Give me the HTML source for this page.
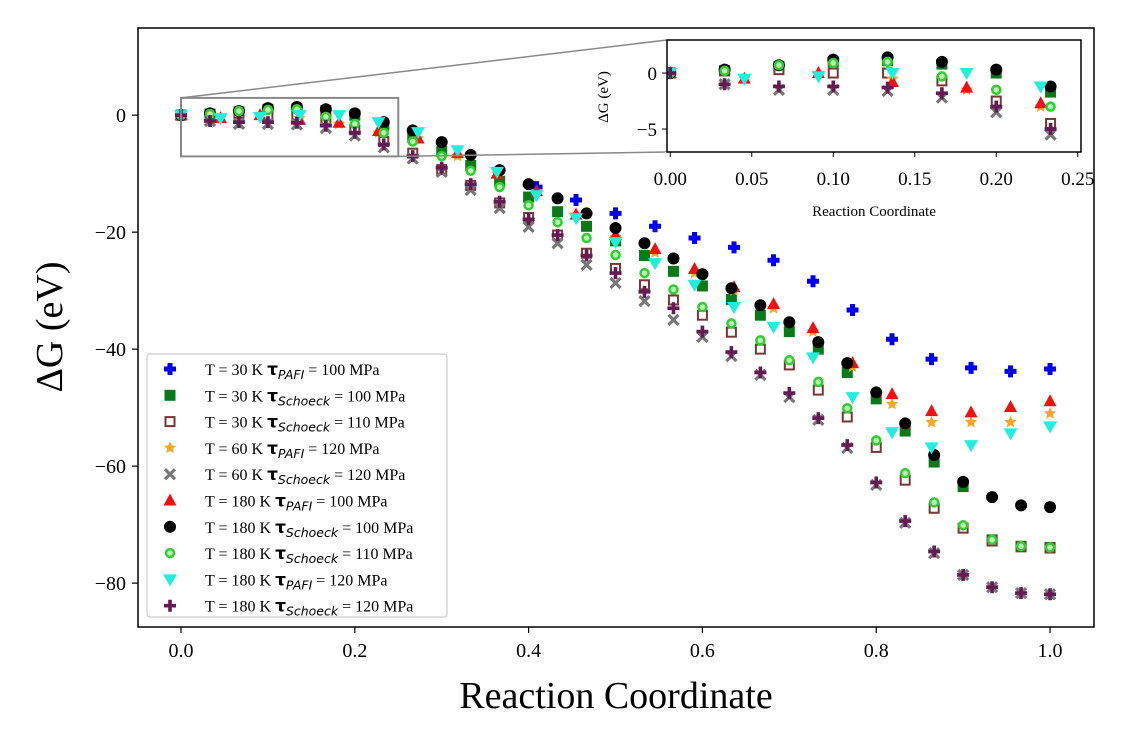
<!DOCTYPE html>
<html><head><meta charset="utf-8"><style>
html,body{margin:0;padding:0;background:#fff;}
svg{display:block;font-family:"Liberation Serif",serif;}
</style></head><body>
<svg id="chart" width="1122" height="748" viewBox="0 0 1122 748" xmlns="http://www.w3.org/2000/svg">
<g id="main"></g>
</svg>
<script>
// ---- data ----
const xSchoeck = Array.from({length:31},(_,k)=>k/30);
const xPafi = Array.from({length:23},(_,k)=>k/22);
const xPafiLate = xPafi.slice(9);
const pafi30_100 = [-12.3,-14.5,-16.8,-19,-21,-22.6,-24.8,-28.4,-33.3,-38.3,-41.7,-43.2,-43.8,-43.4];
const pafi60_120 = [0,-0.5,0,-0.5,-1.5,-3,-4,-7,-10,-13,-17,-21,-23.5,-27,-30,-33,-37,-43,-49.4,-52.5,-52.5,-52.5,-51];
const pafi180_100 = [0,-0.5,0,-0.8,-1.3,-2.7,-4,-6.5,-10,-13,-17,-20.5,-22.9,-26.3,-29.4,-32.3,-36.4,-42.4,-47.7,-50.6,-50.8,-49.9,-48.9];
const pafi180_120 = [0,-0.5,-0.3,0,0,-1.2,-2.9,-6,-9.7,-13.7,-17.6,-21.7,-25.3,-29,-32.8,-36.2,-41.4,-48.2,-54.2,-56.8,-56.4,-54.4,-53.2];
const sch30_100 = [0,0.2,0.6,1,1.1,0.8,0,-1.7,-3.8,-6.2,-8.6,-11.3,-14,-16.5,-19,-21.5,-24,-26.7,-29.2,-31.5,-34.2,-37,-40,-44,-48.5,-54,-59.3,-63.5,-72.6,-73.7,-73.9];
const sch30_110 = [0,0.2,0.3,0,0,-0.7,-2.5,-4.5,-6.5,-9.3,-12,-15,-17.5,-20.5,-23.6,-26.2,-29,-31.6,-34.2,-37.1,-40,-42.7,-47,-51.6,-56.8,-62.4,-67.2,-70.6,-72.8,-73.8,-74];
const sch60_120 = [0,-1,-1.5,-1.5,-1.6,-2.2,-3.5,-5.5,-7.4,-9.7,-12.8,-15.9,-19.1,-21.9,-25.6,-28.7,-31.8,-35,-37.9,-41.2,-44.4,-48.2,-52.1,-56.9,-63.2,-69.7,-74.9,-78.6,-80.7,-81.7,-81.9];
const sch180_100 = [0,0.3,0.7,1.2,1.4,1.0,0.3,-1.2,-2.6,-4.6,-6.8,-9.4,-11.8,-14.2,-16.8,-19.3,-21.9,-24.5,-27.2,-29.6,-32.5,-35.4,-38.8,-42.4,-47.4,-52.7,-58.1,-62.7,-65.3,-66.7,-67];
const sch180_110 = [0,0.2,0.7,0.9,1,-0.3,-1.5,-3,-4.5,-7,-9.5,-12.3,-15.4,-18.3,-21,-23.9,-27,-29.8,-32.8,-35.6,-38.5,-41.9,-45.6,-50.1,-55.6,-61.2,-66.2,-70.1,-72.6,-73.7,-73.9];
const sch180_120 = [0,-1,-1.2,-1.2,-1.3,-1.8,-3,-5,-7,-9,-11.8,-14.8,-17.8,-20.5,-24,-27,-30.2,-33,-37,-40.5,-44,-47.5,-51.8,-56.4,-62.8,-69.4,-74.6,-78.6,-80.7,-81.7,-81.9];
const xTicks = [0,0.2,0.4,0.6,0.8,1.0];
const yTicks = [0,-20,-40,-60,-80];
const insetXTicks = [0,0.05,0.10,0.15,0.20,0.25];
const insetYTicks = [0,-5];

const NS="http://www.w3.org/2000/svg";
function el(tag,attrs,parent){const e=document.createElementNS(NS,tag);for(const k in attrs)e.setAttribute(k,attrs[k]);parent.appendChild(e);return e;}
const root=document.getElementById('main');

const M={l:138,r:1094,t:28,b:627,x0:-0.0495,x1:1.0506,y0:-87.5,y1:14.9};
const I={l:667,r:1081,t:40,b:152,x0:-0.002,x1:0.252,y0:-7.05,y1:2.95};
function sx(A,v){return A.l+(v-A.x0)/(A.x1-A.x0)*(A.r-A.l);}
function sy(A,v){return A.b-(v-A.y0)/(A.y1-A.y0)*(A.b-A.t);}

function marker(g,type,x,y){
  let m;
  if(type==='plus'){m=el('path',{d:`M${x-2.5},${y-6}h5v3.5h3.5v5h-3.5v3.5h-5v-3.5h-3.5v-5h3.5z`,fill:'#0000ee'},g);}
  else if(type==='square'){m=el('rect',{x:x-5.5,y:y-5.5,width:11,height:11,fill:'#0a7a18'},g);}
  else if(type==='osquare'){m=el('rect',{x:x-4.5,y:y-4.5,width:9,height:9,fill:'#fff',stroke:'#7a3535','stroke-width':2},g);}
  else if(type==='star'){let p='';for(let i=0;i<10;i++){const r=i%2?3:6.5,a=-Math.PI/2+i*Math.PI/5;p+=(i?'L':'M')+(x+r*Math.cos(a)).toFixed(1)+','+(y+r*Math.sin(a)).toFixed(1);}m=el('path',{d:p+'Z',fill:'#f5a623'},g);}
  else if(type==='x'){m=el('path',{d:`M${x-5},${y-5}L${x+5},${y+5}M${x+5},${y-5}L${x-5},${y+5}`,stroke:'#777','stroke-width':3.2},g);}
  else if(type==='tri'){m=el('path',{d:`M${x},${y-7}L${x+6.5},${y+5}L${x-6.5},${y+5}Z`,fill:'#ee1111'},g);}
  else if(type==='circle'){m=el('circle',{cx:x,cy:y,r:6,fill:'#000'},g);}
  else if(type==='ocircle'){m=el('circle',{cx:x,cy:y,r:4,fill:'#b8f5b0',stroke:'#33cc33','stroke-width':2.5},g);}
  else if(type==='vtri'){m=el('path',{d:`M${x-7},${y-5}L${x+7},${y-5}L${x},${y+7}Z`,fill:'#22eedd'},g);}
  else if(type==='pplus'){m=el('path',{d:`M${x-1.8},${y-6}h3.6v4.2h4.2v3.6h-4.2v4.2h-3.6v-4.2h-4.2v-3.6h4.2z`,fill:'#661a55'},g);}
  return m;
}

const series=[
 {name:'pafi-30k-100mpa',type:'plus',xs:xPafiLate,ys:pafi30_100,label:'T = 30 K ',sub:'PAFI',tail:' = 100 MPa'},
 {name:'schoeck-30k-100mpa',type:'square',xs:xSchoeck,ys:sch30_100,label:'T = 30 K ',sub:'Schoeck',tail:' = 100 MPa'},
 {name:'schoeck-30k-110mpa',type:'osquare',xs:xSchoeck,ys:sch30_110,label:'T = 30 K ',sub:'Schoeck',tail:' = 110 MPa'},
 {name:'pafi-60k-120mpa',type:'star',xs:xPafi,ys:pafi60_120,label:'T = 60 K ',sub:'PAFI',tail:' = 120 MPa'},
 {name:'schoeck-60k-120mpa',type:'x',xs:xSchoeck,ys:sch60_120,label:'T = 60 K ',sub:'Schoeck',tail:' = 120 MPa'},
 {name:'pafi-180k-100mpa',type:'tri',xs:xPafi,ys:pafi180_100,label:'T = 180 K ',sub:'PAFI',tail:' = 100 MPa'},
 {name:'schoeck-180k-100mpa',type:'circle',xs:xSchoeck,ys:sch180_100,label:'T = 180 K  ',sub:'Schoeck',tail:' = 100 MPa'},
 {name:'schoeck-180k-110mpa',type:'ocircle',xs:xSchoeck,ys:sch180_110,label:'T = 180 K ',sub:'Schoeck',tail:' = 110 MPa'},
 {name:'pafi-180k-120mpa',type:'vtri',xs:xPafi,ys:pafi180_120,label:'T = 180 K ',sub:'PAFI',tail:' = 120 MPa'},
 {name:'schoeck-180k-120mpa',type:'pplus',xs:xSchoeck,ys:sch180_120,label:'T = 180 K ',sub:'Schoeck',tail:' = 120 MPa'}
];

const frame=el('rect',{x:M.l,y:M.t,width:M.r-M.l,height:M.b-M.t,fill:'none',stroke:'#000','stroke-width':1.5},root);



xTicks.forEach(v=>{const x=sx(M,v);
 el('line',{x1:x,x2:x,y1:M.b,y2:M.b+6,stroke:'#000','stroke-width':1.2},root);
 const t=el('text',{x:x,y:M.b+30,'font-size':20,'text-anchor':'middle'},root);t.textContent=v.toFixed(1);
 
 });
yTicks.forEach(v=>{const y=sy(M,v);
 el('line',{x1:M.l-6,x2:M.l,y1:y,y2:y,stroke:'#000','stroke-width':1.2},root);
 const t=el('text',{x:M.l-12,y:y+7,'font-size':20,'text-anchor':'end'},root);t.textContent=v===0?'0':'\u2212'+Math.abs(v);
 
 });
const xt=el('text',{x:616,y:708,'font-size':38,'text-anchor':'middle'},root);xt.textContent='Reaction Coordinate';


const yt=el('text',{x:0,y:0,'font-size':38,'text-anchor':'middle',transform:'translate(62,327) rotate(-90)'},root);yt.textContent='\u0394G (eV)';



series.forEach(s=>{const g=el('g',{},root);
 
 
 s.xs.forEach((xv,i)=>{if(s.ys[i]===undefined)return;const m=marker(g,s.type,sx(M,xv),sy(M,s.ys[i]));
  
  });});

const zr=el('rect',{x:sx(M,0),y:sy(M,2.95),width:sx(M,0.25)-sx(M,0),height:sy(M,-7.05)-sy(M,2.95),fill:'none',stroke:'#888','stroke-width':2},root);


el('line',{x1:sx(M,0),y1:sy(M,2.95),x2:I.l,y2:I.t,stroke:'#888','stroke-width':1.5},root);
el('line',{x1:sx(M,0.25),y1:sy(M,-7.05),x2:I.l,y2:I.b,stroke:'#888','stroke-width':1.5},root);

const ins=el('g',{},root);


el('rect',{x:I.l,y:I.t,width:I.r-I.l,height:I.b-I.t,fill:'#fff',stroke:'none'},ins);
el('rect',{x:I.l-2,y:I.b,width:I.r-I.l+4,height:70,fill:'#fff'},ins);
const clip=el('clipPath',{id:'ic'},ins);el('rect',{x:I.l,y:I.t,width:I.r-I.l,height:I.b-I.t},clip);
const ig=el('g',{'clip-path':'url(#ic)'},ins);
series.forEach(s=>{const g=el('g',{},ig);
 
 
 s.xs.forEach((xv,i)=>{if(xv>0.26)return;const m=marker(g,s.type,sx(I,xv),sy(I,s.ys[i]));
  
  });});
el('rect',{x:I.l,y:I.t,width:I.r-I.l,height:I.b-I.t,fill:'none',stroke:'#000','stroke-width':1.5},ins);
insetXTicks.forEach(v=>{const x=sx(I,v);
 el('line',{x1:x,x2:x,y1:I.b,y2:I.b+5,stroke:'#000'},ins);
 const t=el('text',{x:x,y:I.b+33,'font-size':19,'text-anchor':'middle'},ins);t.textContent=v.toFixed(2);
 
 });
insetYTicks.forEach(v=>{const y=sy(I,v);
 el('line',{x1:I.l-5,x2:I.l,y1:y,y2:y,stroke:'#000'},ins);
 const t=el('text',{x:I.l-10,y:y+7,'font-size':19,'text-anchor':'end'},ins);t.textContent=v===0?'0':'\u2212'+Math.abs(v);
 
 });
const ixt=el('text',{x:874,y:216,'font-size':15,'text-anchor':'middle'},ins);ixt.textContent='Reaction Coordinate';


const iyt=el('text',{x:0,y:0,'font-size':15,'text-anchor':'middle',transform:'translate(608,97) rotate(-90)'},ins);iyt.textContent='\u0394G (eV)';



const lg=el('g',{},root);


el('rect',{x:147,y:354,width:300,height:263,rx:3,fill:'#fff','fill-opacity':0.85,stroke:'#ccc','stroke-width':1.2},lg);
series.forEach((s,i)=>{const y=369+i*26.3;
 const e=el('g',{},lg);
 
 
 marker(e,s.type,170,y);
 const t=el('text',{x:205,y:y+6,'font-size':16},e);
 const a=el('tspan',{},t);a.textContent=s.label;
 const b=el('tspan',{'font-family':'DejaVu Sans, sans-serif','font-weight':'bold','font-size':17},t);b.textContent='\u03c4';
 const c=el('tspan',{'font-family':'DejaVu Sans, sans-serif','font-style':'italic','font-size':12.5,dy:4},t);c.textContent=s.sub;
 const d=el('tspan',{dy:-4},t);d.textContent=s.tail;});
</script>
</body></html>
